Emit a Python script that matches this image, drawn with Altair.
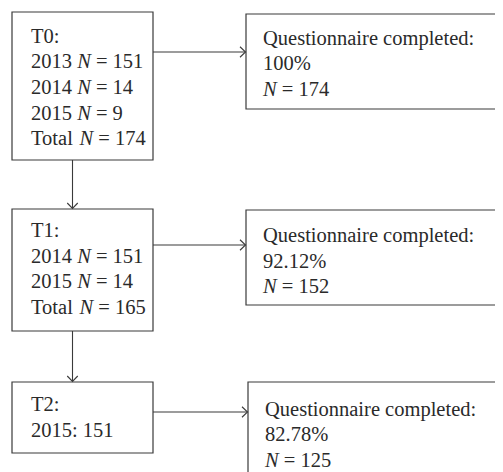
import altair as alt
import pandas as pd

# ---------------- content ----------------
stage_lines = [
    ["T0:", "2013 {N} = 151", "2014 {N} = 14", "2015 {N} = 9", "Total {N} = 174"],
    ["T1:", "2014 {N} = 151", "2015 {N} = 14", "Total {N} = 165"],
    ["T2:", "2015: 151"],
]
completion_title = "Questionnaire completed:"
completion_pct = ["100%", "92.12%", "82.78%"]
completion_n = [174, 152, 125]

# ---------------- layout (page pixels) ----------------
W, H = 487, 464
FONT = "Liberation Serif"
FS = 20.5
LINE = 25.7
INK = "#2a2a2a"
BOX = "#3a3a3a"

left_x0, left_x1 = 12, 153
left_top = [12, 209, 382]
left_bot = [160, 331, 453]
left_first = [42.5, 237, 411]
left_text_x = 31

right_x0 = [246, 246, 248]
right_x1 = 520
right_top = [14, 210, 382]
right_bot = [109, 305, 490]
right_first = [44.5, 242, 415.5]
right_text_dx = 17

arrow_y = [52, 245, 412]
vert_x = 72.5

# Times / Liberation Serif advance widths (per 1000 em)
REG = {" ": 250, ".": 250, ":": 278, "%": 833, "=": 564, "T": 611, "o": 500, "t": 278,
       "a": 444, "l": 278, "Q": 722, "u": 500, "e": 444, "s": 389, "i": 278, "n": 500,
       "r": 333, "c": 444, "m": 778, "p": 500, "d": 500}
for d in "0123456789":
    REG[d] = 500
ITAL = {"N": 667}


def width(s, italic=False):
    tbl = ITAL if italic else REG
    return sum(tbl.get(ch, 500) for ch in s) * FS / 1000.0


def segments(line):
    out = []
    parts = line.split("{N}")
    for i, p in enumerate(parts):
        if p:
            out.append((p, False))
        if i < len(parts) - 1:
            out.append(("N", True))
    return out


rows = []


def add_line(line, x, y):
    cur = x
    for seg, it in segments(line):
        lead = len(seg) - len(seg.lstrip(" "))
        txt = seg.strip(" ")
        if txt:
            rows.append({"x": cur + width(" " * lead), "y": y, "t": txt, "it": it})
        cur += width(seg, it)


for b, lines in enumerate(stage_lines):
    for k, ln in enumerate(lines):
        add_line(ln, left_text_x, left_first[b] + k * LINE)

for b in range(3):
    tx = right_x0[b] + right_text_dx
    add_line(completion_title, tx, right_first[b])
    add_line(completion_pct[b], tx, right_first[b] + LINE)
    add_line("{N} = " + str(completion_n[b]), tx, right_first[b] + 2 * LINE)

text_df = pd.DataFrame(rows)

boxes = []
for b in range(3):
    boxes.append({"x": left_x0, "x2": left_x1, "y": left_top[b], "y2": left_bot[b]})
    boxes.append({"x": right_x0[b], "x2": right_x1, "y": right_top[b], "y2": right_bot[b]})
box_df = pd.DataFrame(boxes)

lines = []
heads = []
for b in range(3):
    lines.append({"x": left_x1, "x2": right_x0[b] - 0.5, "y": arrow_y[b], "y2": arrow_y[b]})
    heads.append({"x": right_x0[b] - 0.5, "y": arrow_y[b], "a": 0})
for b in range(2):
    lines.append({"x": vert_x, "x2": vert_x, "y": left_bot[b], "y2": left_top[b + 1] - 0.5})
    heads.append({"x": vert_x, "y": left_top[b + 1] - 0.5, "a": 90})
line_df = pd.DataFrame(lines)
head_df = pd.DataFrame(heads)

xs = alt.Scale(domain=[8, 8 + W], nice=False, zero=False)
ys = alt.Scale(domain=[8, 8 + H], nice=False, zero=False, reverse=True)

rect = alt.Chart(box_df).mark_rect(fill="white", stroke=BOX, strokeWidth=1.2, clip=True).encode(
    x=alt.X("x:Q", scale=xs, axis=None), x2="x2:Q",
    y=alt.Y("y:Q", scale=ys, axis=None), y2="y2:Q")

rule = alt.Chart(line_df).mark_rule(color=BOX, strokeWidth=1.1, clip=True).encode(
    x=alt.X("x:Q", scale=xs, axis=None), x2="x2:Q",
    y=alt.Y("y:Q", scale=ys, axis=None), y2="y2:Q")

head = alt.Chart(head_df).mark_point(
    shape="M-1.1,-1.05L0,0L-1.1,1.05", filled=False, size=100, color=BOX,
    strokeWidth=1.1, opacity=1, clip=True).encode(
    x=alt.X("x:Q", scale=xs, axis=None),
    y=alt.Y("y:Q", scale=ys, axis=None),
    angle=alt.Angle("a:Q", scale=None))

txt_reg = alt.Chart(text_df[~text_df["it"]]).mark_text(
    font=FONT, fontSize=FS, align="left", baseline="alphabetic", color=INK).encode(
    x=alt.X("x:Q", scale=xs, axis=None), y=alt.Y("y:Q", scale=ys, axis=None), text="t:N")

txt_it = alt.Chart(text_df[text_df["it"]]).mark_text(
    font=FONT, fontSize=FS, fontStyle="italic", align="left", baseline="alphabetic",
    color=INK).encode(
    x=alt.X("x:Q", scale=xs, axis=None), y=alt.Y("y:Q", scale=ys, axis=None), text="t:N")

chart = alt.layer(rect, rule, head, txt_reg, txt_it).properties(
    width=W, height=H, autosize=alt.AutoSizeParams(type="none"), padding=0,
    background="white"
).configure_view(stroke=None)

chart.save("out.html", embed_options={"renderer": "svg", "actions": False})
